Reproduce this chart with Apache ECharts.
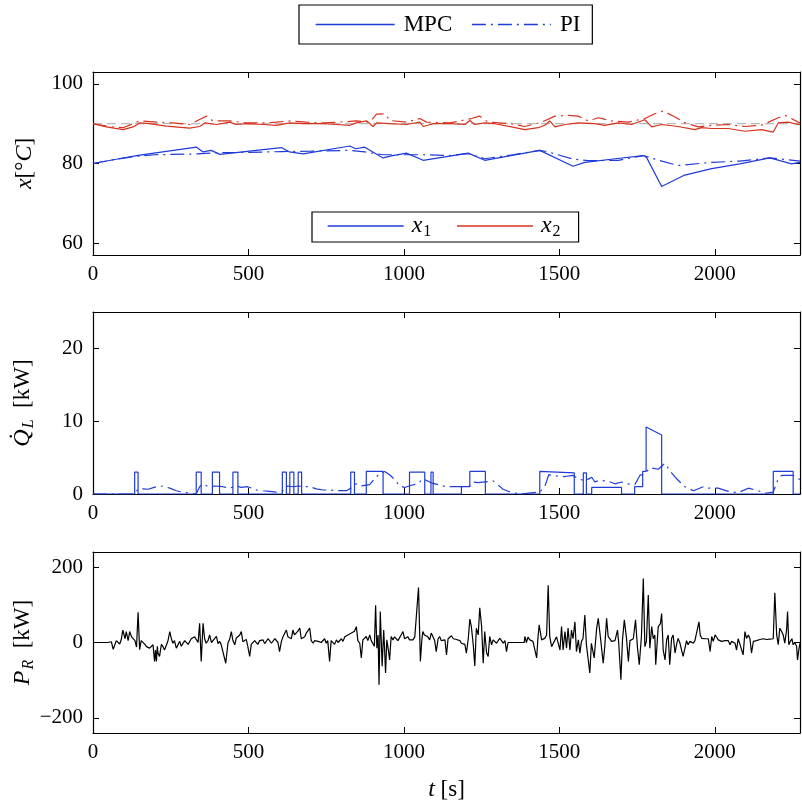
<!DOCTYPE html>
<html><head><meta charset="utf-8">
<script src="https://cdn.jsdelivr.net/npm/echarts@6/dist/echarts.min.js"></script>
<style>html,body{margin:0;padding:0;background:#fff}#c{width:802px;height:803px}</style>
</head><body><div id="c"></div>
<script>
// ---------- data ----------
const tMax = 2274;
const xTicks = [0, 500, 1000, 1500, 2000];
const y1Ticks = [60, 80, 100];
const y1Range = [57, 103];
const y2Ticks = [0, 10, 20];
const y2Range = [0, 25];
const y3Ticks = [-200, 0, 200];
const y3Range = [-240, 240];

const setpoint = [[0, 90], [2274, 90]];

const x1Mpc = [[0,80.0],[70,81.0],[140,82.0],[230,83.0],[333,84.1],[354,82.9],[380,83.3],[408,82.3],[606,84.0],[632,82.9],[676,82.4],[826,84.4],[845,83.7],[874,84.1],[933,81.4],[960,81.9],[1008,82.6],[1062,80.8],[1207,82.6],[1260,80.8],[1437,83.3],[1544,79.3],[1582,80.3],[1680,81.2],[1770,82.0],[1780,81.6],[1829,74.2],[1900,77.0],[1990,78.7],[2080,79.9],[2177,81.4],[2247,79.9],[2274,80.3]];

const x1Pi = [[0,80.0],[70,81.0],[140,81.8],[200,82.2],[333,82.4],[400,82.7],[500,82.8],[606,83.0],[700,83.1],[826,83.3],[874,82.9],[933,82.2],[1008,82.2],[1062,82.2],[1148,82.0],[1207,82.5],[1260,81.2],[1350,82.2],[1437,83.3],[1460,83.0],[1540,81.2],[1591,80.7],[1690,80.8],[1770,82.0],[1820,80.8],[1882,79.5],[1990,80.3],[2080,80.6],[2177,81.4],[2274,80.6]];

const x2Mpc = [[0,90.0],[43,89.2],[97,88.5],[129,89.2],[150,90.2],[182,90.0],[236,89.4],[311,88.9],[343,89.3],[360,90.2],[397,89.8],[440,90.4],[461,89.8],[493,90.0],[547,89.8],[590,89.6],[633,90.2],[676,90.0],[740,90.0],[783,89.8],[826,89.6],[847,90.2],[880,90.7],[901,89.3],[912,90.2],[955,90.0],[1008,89.8],[1051,90.4],[1062,89.3],[1094,90.0],[1148,90.0],[1196,89.8],[1212,90.8],[1228,89.8],[1260,90.2],[1292,90.0],[1346,89.2],[1389,88.5],[1432,89.0],[1453,89.6],[1469,90.7],[1486,89.2],[1518,89.8],[1561,90.2],[1614,90.0],[1646,89.6],[1689,90.2],[1732,89.8],[1775,91.0],[1797,89.2],[1829,89.8],[1882,89.3],[1936,88.5],[1957,89.0],[1990,88.8],[2043,88.8],[2097,88.1],[2150,88.5],[2188,87.9],[2204,90.2],[2236,90.4],[2268,89.8],[2274,89.8]];

const x2Pi = [[0,90.0],[50,89.3],[97,89.0],[150,90.7],[204,90.4],[257,90.2],[311,89.8],[354,91.5],[365,91.9],[386,90.7],[440,90.7],[493,90.2],[547,90.2],[590,90.4],[633,90.7],[686,90.4],[740,90.2],[790,90.4],[847,90.7],[890,90.4],[912,92.4],[939,92.5],[955,90.8],[1008,90.4],[1051,91.3],[1073,90.4],[1148,90.2],[1217,91.3],[1244,91.9],[1271,90.4],[1346,90.0],[1389,89.3],[1443,90.4],[1486,91.9],[1528,92.1],[1561,91.9],[1593,90.7],[1625,91.5],[1668,90.7],[1721,90.4],[1775,91.3],[1807,92.5],[1834,93.2],[1872,91.7],[1904,90.2],[1947,89.2],[1990,89.6],[2043,89.8],[2097,89.3],[2150,89.6],[2204,91.5],[2226,92.1],[2268,90.4],[2274,90.2]];

const qMpc = [[0,0],[134,0],[134,3],[145,3],[145,0],
 [332,0],[332,3],[348,3],[348,0],
 [384,0],[384,3],[407,3],[407,0],
 [450,0],[450,3],[466,3],[466,0],
 [609,0],[609,3],[622,3],[622,0],
 [633,0],[633,3],[646,3],[646,0],
 [660,0],[660,3],[671,3],[671,0],
 [829,0],[829,3],[841,3],[841,0],
 [879,0],[879,3.1],[933,3.1],[933,0],
 [1018,0],[1018,3],[1067,3],[1067,0],
 [1087,0],[1087,3],[1094,3],[1094,0],
 [1185,0],[1185,1],[1212,1],[1212,3.1],[1262,3.1],[1262,0],
 [1437,0],[1437,3.1],[1548,2.9],[1548,0],
 [1577,0],[1577,2.9],[1587,2.9],[1587,0],
 [1604,0],[1604,0.9],[1700,0.9],[1700,0],
 [1742,0],[1742,1],[1768,1],[1768,3.1],[1779,3.1],[1779,9.2],[1829,8.1],[1829,0],
 [2188,0],[2188,3.1],[2252,3.1],[2252,0],[2274,0]];

const qPi = [[0,0],[134,0],[145,0.7],[161,0.7],[177,0.65],[204,1.0],[225,1.1],[247,0.8],[268,0.45],[295,0.2],[332,0],[343,1.0],[354,1.4],[370,1.0],[391,1.1],[418,1.0],[440,0.8],[461,1.1],[477,0.9],[498,1.0],[525,0.55],[547,0.45],[568,0.37],[590,0.27],[611,0.5],[627,1.1],[643,1.0],[659,1.1],[675,1.0],[697,1.0],[718,0.7],[740,0.55],[761,0.55],[783,0.45],[815,0.45],[836,1.0],[847,1.4],[863,1.1],[890,1.3],[906,2.1],[922,2.8],[938,3.1],[954,2.65],[970,2.0],[986,1.1],[1002,0.9],[1024,1.2],[1045,1.4],[1061,2.1],[1090,1.5],[1132,1.05],[1153,1.0],[1185,1.0],[1212,1.1],[1223,1.65],[1239,1.55],[1287,1.8],[1319,0.65],[1346,0.2],[1378,0],[1437,0.3],[1453,1.0],[1466,2.65],[1486,2.5],[1518,2.4],[1544,2.55],[1561,2.1],[1582,1.8],[1604,2.3],[1614,1.65],[1630,1.9],[1657,1.75],[1679,1.4],[1700,1.65],[1716,1.4],[1743,1.3],[1759,2.55],[1775,2.8],[1791,3.6],[1818,3.4],[1839,4.2],[1861,2.9],[1877,2.1],[1904,1.0],[1931,0.45],[1963,1.0],[1979,0.8],[2011,0.8],[2043,0.37],[2075,0.18],[2108,0.8],[2140,0.45],[2161,0.1],[2188,0.27],[2204,2.1],[2215,2.55],[2252,2.55],[2268,2.1],[2274,2.0]];

const pr = [[0,0],[48,0],[59,2],[65,-18],[70,-20],[75,5],[80,3],[86,-4],[91,8],[96,33],[103,10],[107,29],[113,5],[118,29],[124,15],[129,16],[135,5],[140,-12],[145,80],[150,-19],[155,5],[161,7],[167,-5],[172,-11],[177,-8],[182,-15],[188,-20],[193,-6],[198,-50],[201,-20],[204,-50],[207,-10],[209,-28],[214,-37],[220,-5],[225,-11],[230,-20],[236,-15],[241,4],[247,29],[252,10],[257,-2],[262,5],[268,-15],[274,-5],[279,3],[284,-10],[289,-11],[295,5],[300,7],[306,-5],[311,-2],[316,10],[322,7],[327,15],[332,11],[338,0],[343,51],[348,-50],[354,51],[359,10],[364,-2],[370,5],[375,20],[381,0],[386,3],[391,10],[397,16],[402,-3],[407,3],[412,-5],[418,-2],[427,-55],[434,-2],[440,10],[445,29],[450,5],[456,-6],[461,12],[466,7],[472,20],[477,29],[482,2],[488,-2],[493,8],[498,-11],[504,-37],[509,-5],[515,-2],[520,5],[525,3],[530,-5],[536,5],[541,0],[547,7],[552,-3],[557,-2],[563,10],[568,11],[574,-2],[579,3],[585,10],[590,7],[595,0],[600,-24],[606,3],[611,15],[616,20],[622,33],[627,15],[632,20],[638,10],[643,33],[648,20],[654,16],[659,30],[665,38],[670,10],[675,7],[681,15],[686,25],[691,20],[697,38],[702,5],[708,-2],[713,5],[718,7],[724,3],[729,7],[734,0],[740,3],[745,10],[750,-2],[755,5],[761,-50],[766,5],[772,3],[777,-5],[783,7],[788,0],[793,3],[799,10],[804,3],[810,15],[815,11],[820,20],[825,16],[831,25],[836,20],[841,30],[847,42],[852,5],[858,-2],[863,-41],[868,7],[873,10],[879,16],[884,5],[890,20],[895,5],[900,3],[905,-10],[909,99],[913,-15],[917,20],[920,-112],[924,82],[927,10],[930,-63],[935,33],[938,-20],[941,-81],[945,7],[950,-20],[954,-46],[959,16],[965,7],[970,15],[975,20],[981,5],[986,3],[991,20],[997,29],[1002,10],[1008,11],[1013,15],[1018,7],[1024,10],[1029,7],[1035,15],[1040,11],[1047,146],[1053,-50],[1058,10],[1061,29],[1066,20],[1072,20],[1077,15],[1083,7],[1088,25],[1093,20],[1099,5],[1104,-24],[1110,10],[1115,16],[1120,5],[1126,3],
 [1132,7],[1137,-33],[1142,10],[1148,5],[1153,18],[1159,10],[1164,7],[1169,8],[1175,3],[1180,5],[1185,-2],[1191,2],[1196,-5],[1201,-28],[1207,10],[1212,62],[1217,42],[1223,-6],[1228,-62],[1233,38],[1239,20],[1244,92],[1250,42],[1255,-55],[1260,29],[1266,-28],[1271,-37],[1276,16],[1282,-6],[1287,7],[1292,5],[1298,-2],[1303,3],[1308,11],[1314,5],[1319,-2],[1325,5],[1330,-24],[1335,0],[1387,0],[1389,16],[1394,0],[1399,14],[1405,7],[1410,10],[1415,3],[1421,5],[1427,-41],[1431,10],[1435,47],[1443,7],[1453,11],[1459,20],[1464,152],[1469,16],[1475,-11],[1480,-15],[1486,7],[1491,15],[1496,18],[1502,-20],[1507,42],[1512,-20],[1518,29],[1523,-15],[1528,38],[1534,-20],[1539,33],[1544,10],[1550,55],[1555,-24],[1561,7],[1566,-28],[1571,3],[1576,10],[1582,73],[1587,-6],[1598,-81],[1603,-2],[1612,-41],[1620,38],[1625,64],[1633,7],[1641,-55],[1646,-11],[1652,64],[1657,16],[1663,16],[1668,3],[1673,7],[1679,5],[1687,33],[1691,-2],[1698,-99],[1703,7],[1709,60],[1716,11],[1722,-50],[1727,5],[1733,3],[1738,10],[1745,60],[1751,-11],[1757,-59],[1764,16],[1770,170],[1775,-11],[1780,3],[1786,126],[1791,-15],[1797,42],[1802,10],[1807,20],[1810,-59],[1818,42],[1825,50],[1829,77],[1834,-20],[1840,-46],[1845,7],[1850,20],[1855,-59],[1861,11],[1866,20],[1872,-28],[1877,-5],[1882,11],[1888,-2],[1893,-20],[1898,-37],[1904,-15],[1909,5],[1914,-6],[1920,3],[1925,7],[1931,-2],[1936,5],[1941,3],[1949,55],[1953,20],[1958,11],[1963,7],[1968,10],[1974,5],[1979,10],[1985,-24],[1990,16],[1995,3],[2001,20],[2006,14],[2011,7],[2017,5],[2022,3],[2027,-2],[2033,5],[2038,7],[2043,5],[2049,-6],[2054,3],[2060,5],[2065,-2],[2070,-20],[2075,10],[2081,-5],[2086,0],[2091,-33],[2097,29],[2102,11],[2108,20],[2113,10],[2118,-28],[2124,3],[2129,7],[2134,5],[2140,7],[2145,8],[2150,5],[2156,10],[2161,7],[2166,8],[2172,5],[2177,9],[2182,7],[2188,10],[2193,132],[2199,20],[2204,-6],[2209,38],[2215,29],[2220,20],[2225,-2],[2231,35],[2234,82],[2238,-6],[2243,3],[2248,10],[2252,-6],[2257,0],[2263,-10],[2266,-46],[2270,-20],[2274,-2]];

// ---------- styling ----------
const FONT = 'Liberation Serif';
const BLUE = '#1f3bd8';
const RED = '#d8321f';
const DASHDOT = [14, 5, 2, 5];

const grids = [
  {left: 93, top: 72, width: 707, height: 183, outerBoundsMode: 'none', containLabel: false},
  {left: 93, top: 312, width: 707, height: 182, outerBoundsMode: 'none', containLabel: false},
  {left: 93, top: 552, width: 707, height: 181, outerBoundsMode: 'none', containLabel: false}
];
function fmt(v) { return v < 0 ? '\u2212' + Math.abs(v) : String(v); }

function xAx(gi, bottom, extra) {
  return Object.assign({
    type: 'value', gridIndex: gi, min: 0, max: tMax,
    position: bottom ? 'bottom' : 'top',
    axisLine: {show: true, onZero: false, lineStyle: {color: '#000', width: 1.2}},
    axisTick: {show: true, inside: true, length: 6, customValues: xTicks, lineStyle: {color: '#000', width: 1}},
    axisLabel: {show: bottom, customValues: xTicks, formatter: fmt, margin: 9, fontFamily: FONT, fontSize: 21, color: '#000'},
    splitLine: {show: false}
  }, extra || {});
}
function yAx(gi, left, range, ticks, extra) {
  return Object.assign({
    type: 'value', gridIndex: gi, min: range[0], max: range[1],
    position: left ? 'left' : 'right',
    axisLine: {show: true, onZero: false, lineStyle: {color: '#000', width: 1.2}},
    axisTick: {show: true, inside: true, length: 6, customValues: ticks, lineStyle: {color: '#000', width: 1}},
    axisLabel: {show: left, customValues: ticks, formatter: fmt, margin: 10, fontFamily: FONT, fontSize: 21, color: '#000'},
    splitLine: {show: false}
  }, extra || {});
}
const nameStyle = {
  fontFamily: FONT, fontSize: 23, color: '#000',
  rich: {
    i: {fontFamily: FONT, fontSize: 24, fontStyle: 'italic', color: '#000'},
    s: {fontFamily: FONT, fontSize: 16, fontStyle: 'italic', color: '#000', padding: [13, 0, 0, 1]},
    n: {fontFamily: FONT, fontSize: 23, color: '#000'}
  }
};
function yName(text, gap) {
  return {name: text, nameLocation: 'middle', nameRotate: 90, nameGap: gap, nameMoveOverlap: false, nameTextStyle: nameStyle};
}

function line(name, data, xi, color, dash, width, z) {
  return {
    type: 'line', name: name, data: data, xAxisIndex: xi, yAxisIndex: xi,
    symbol: 'none', showSymbol: false, animation: false, silent: true, z: z || 2,
    lineStyle: {color: color, width: width || 1.1, type: dash || 'solid'},
    itemStyle: {color: color}
  };
}

const chart = echarts.init(document.getElementById('c'), null, {renderer: 'canvas'});
chart.setOption({
  backgroundColor: '#fff',
  animation: false,
  grid: grids,
  xAxis: [
    xAx(0, true), xAx(1, true),
    xAx(2, true, {name: '{i|t} [s]', nameLocation: 'middle', nameGap: 45, nameMoveOverlap: false, nameTextStyle: nameStyle}),
    xAx(0, false), xAx(1, false), xAx(2, false)
  ],
  yAxis: [
    yAx(0, true, y1Range, y1Ticks, yName('{i|x}[°{i|C}]', 56)),
    yAx(1, true, y2Range, y2Ticks, yName('{i|Q\u0307}{s|L}  [kW]', 56)),
    yAx(2, true, y3Range, y3Ticks, yName('{i|P}{s|R}  [kW]', 56)),
    yAx(0, false, y1Range, y1Ticks), yAx(1, false, y2Range, y2Ticks), yAx(2, false, y3Range, y3Ticks)
  ],
  legend: [
    {
      data: ['MPC', 'PI'], left: 299, top: 5, orient: 'horizontal',
      itemWidth: 79, itemHeight: 14, itemGap: 19, padding: [8, 12, 8, 16],
      borderColor: '#000', borderWidth: 1.2, backgroundColor: '#fff', selectedMode: false,
      itemStyle: {opacity: 0}, lineStyle: {width: 1.3},
      textStyle: {fontFamily: FONT, fontSize: 23, color: '#000', padding: [0, 0, 0, 4]}
    },
    {
      data: ['x1', 'x2'], left: 312, top: 212, orient: 'horizontal',
      itemWidth: 76, itemHeight: 14, itemGap: 25, padding: [2, 18, 2, 15],
      borderColor: '#000', borderWidth: 1.2, backgroundColor: '#fff', selectedMode: false,
      itemStyle: {opacity: 0}, lineStyle: {width: 1.3},
      formatter: function (n) { return n === 'x1' ? '{i|x}{s|1}' : '{i|x}{s|2}'; },
      textStyle: {fontFamily: FONT, fontSize: 23, color: '#000', padding: [0, 0, 0, 3],
        rich: {
          i: {fontFamily: FONT, fontSize: 24, fontStyle: 'italic', color: '#000'},
          s: {fontFamily: FONT, fontSize: 16, color: '#000', padding: [12, 0, 0, 1]}
        }}
    }
  ],
  series: [
    line('setpoint', setpoint, 0, '#a8a8a8', [9, 5], 1, 1),
    line('x1 PI', x1Pi, 0, BLUE, DASHDOT, 1.2, 2),
    line('x1', x1Mpc, 0, BLUE, 'solid', 1.2, 3),
    line('x2 PI', x2Pi, 0, RED, DASHDOT, 1.2, 2),
    line('x2', x2Mpc, 0, RED, 'solid', 1.2, 3),
    line('MPC', [], 0, BLUE, 'solid', 1.3, 2),
    line('PI', [], 0, BLUE, DASHDOT, 1.3, 2),
    line('Q PI', qPi, 1, BLUE, DASHDOT, 1.2, 2),
    line('Q MPC', qMpc, 1, BLUE, 'solid', 1.2, 3),
    line('P_R', pr, 2, '#000', 'solid', 1.2, 3)
  ]
});
</script>
</body></html>
